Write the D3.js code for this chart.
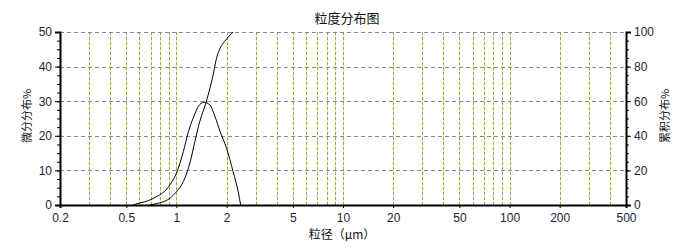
<!DOCTYPE html>
<html>
<head>
<meta charset="utf-8">
<script src="https://cdn.jsdelivr.net/npm/d3@7"></script>
<style>
  body { margin: 0; background: #fff; }
  svg { display: block; font-family: "Liberation Sans", Arial, sans-serif; }
</style>
</head>
<body>
<svg id="chart" width="693" height="251"></svg>
<script>
// x tick labels (particle size, µm)
const xTicks = [0.2, 0.5, 1, 2, 5, 10, 20, 50, 100, 200, 500];
// dashed vertical grid positions
const xGrid = [0.3, 0.4, 0.5, 0.6, 0.7, 0.8, 0.9, 1, 2, 3, 4, 5, 6, 7, 8, 9, 10,
               20, 30, 40, 50, 60, 70, 80, 90, 100, 200, 300, 400];
const leftTicks = [0, 10, 20, 30, 40, 50];
const rightTicks = [0, 20, 40, 60, 80, 100];

// differential distribution (%), left axis
const diffSize = [0.548, 0.564, 0.726, 0.914, 1.00, 1.10, 1.18, 1.26, 1.35, 1.46, 1.59, 1.70, 1.83, 2.00, 2.19, 2.35, 2.43];
const diffVal  = [0, 0.2, 1.9, 5.8, 9.2, 15.4, 21.2, 25.1, 28.4, 29.7, 28.9, 25.7, 21.2, 16.4, 9.6, 3.8, 0];

// cumulative distribution (%), right axis
const cumSize = [0.69, 0.726, 0.914, 1.00, 1.10, 1.21, 1.29, 1.38, 1.50, 1.59, 1.66, 1.74, 1.83, 1.98, 2.19];
const cumVal  = [0, 0.4, 3.9, 7.7, 13.5, 25.0, 36.6, 48.2, 58.8, 67.5, 75.1, 84.8, 90.6, 95.4, 100];

const plotLeft = 60, plotRight = 626, plotTop = 32, plotBottom = 205;

var svg = d3.select("#chart");

var x = d3.scaleLog().domain([0.2, 500]).range([plotLeft, plotRight]);
var yL = d3.scaleLinear().domain([0, 50]).range([plotBottom, plotTop]);
var yR = d3.scaleLinear().domain([0, 100]).range([plotBottom, plotTop]);

// vertical grid: gray dashes with yellow in the gaps
var grid = svg.append("g");
xGrid.forEach(v => {
    var gxPos = Math.round(x(v)) + 0.5;
    grid.append("line")
        .attr("x1", gxPos).attr("x2", gxPos)
        .attr("y1", plotTop).attr("y2", plotBottom)
        .attr("stroke", "#ffff40").attr("stroke-width", 1);
    grid.append("line")
        .attr("x1", gxPos).attr("x2", gxPos)
        .attr("y1", plotTop).attr("y2", plotBottom)
        .attr("stroke", "#999").attr("stroke-width", 1)
        .attr("stroke-dasharray", "3,2");
});
// horizontal grid
[10, 20, 30, 40, 50].forEach(v => {
    var gyPos = Math.round(yL(v)) + 0.5;
    grid.append("line")
        .attr("x1", plotLeft).attr("x2", plotRight)
        .attr("y1", gyPos).attr("y2", gyPos)
        .attr("stroke", "#888").attr("stroke-width", 1)
        .attr("stroke-dasharray", "4,3");
});

// axes
var xAxis = d3.axisBottom(x).tickValues(xTicks).tickSize(3).tickFormat(d => d);
var gx = svg.append("g").attr("transform", "translate(0," + plotBottom + ")").call(xAxis);
gx.select(".domain").attr("stroke", "#000").attr("stroke-width", 2);

var yAxisL = d3.axisLeft(yL).tickValues(leftTicks).tickSize(5);
var gl = svg.append("g").attr("transform", "translate(" + plotLeft + ",0)").call(yAxisL);
gl.select(".domain").attr("stroke", "#000").attr("stroke-width", 2);
var minorL = d3.axisLeft(yL).tickValues(d3.range(0, 50.1, 2.5)).tickSize(3).tickFormat("");
svg.append("g").attr("transform", "translate(" + plotLeft + ",0)").call(minorL)
    .select(".domain").remove();

var yAxisR = d3.axisRight(yR).tickValues(rightTicks).tickSize(5);
var gr = svg.append("g").attr("transform", "translate(" + plotRight + ",0)").call(yAxisR);
gr.select(".domain").attr("stroke", "#000").attr("stroke-width", 2);
var minorR = d3.axisRight(yR).tickValues(d3.range(0, 100.1, 5)).tickSize(3).tickFormat("");
svg.append("g").attr("transform", "translate(" + plotRight + ",0)").call(minorR)
    .select(".domain").remove();

svg.selectAll(".tick text").attr("font-size", 12).attr("fill", "#1c1c3a")
    .attr("font-family", "'Liberation Sans', Arial, sans-serif");
gx.selectAll(".tick text").attr("dy", "0.92em");

// curves
var line = d3.line().curve(d3.curveMonotoneX);
svg.append("path")
    .attr("d", line(diffSize.map((d, i) => [x(d), yL(diffVal[i])])))
    .attr("fill", "none").attr("stroke", "#000").attr("stroke-width", 1);
svg.append("path")
    .attr("d", line(cumSize.map((d, i) => [x(d), yR(cumVal[i])])))
    .attr("fill", "none").attr("stroke", "#000").attr("stroke-width", 1);

// titles
svg.append("text").text("粒度分布图")
    .attr("x", 347).attr("y", 23).attr("text-anchor", "middle")
    .attr("font-size", 13).attr("fill", "#111")
    .attr("font-family", "'Noto Sans CJK SC', sans-serif");
svg.append("text").text("粒径（μm）")
    .attr("x", 342).attr("y", 239).attr("text-anchor", "middle")
    .attr("font-size", 12).attr("fill", "#111")
    .attr("font-family", "'Noto Sans CJK SC', sans-serif");
svg.append("text").text("微分分布%")
    .attr("transform", "translate(31,116) rotate(-90)")
    .attr("text-anchor", "middle")
    .attr("font-size", 11).attr("fill", "#111")
    .attr("font-family", "'Noto Sans CJK SC', sans-serif");
svg.append("text").text("累积分布%")
    .attr("transform", "translate(669,116) rotate(-90)")
    .attr("text-anchor", "middle")
    .attr("font-size", 11).attr("fill", "#111")
    .attr("font-family", "'Noto Sans CJK SC', sans-serif");
</script>
</body>
</html>
